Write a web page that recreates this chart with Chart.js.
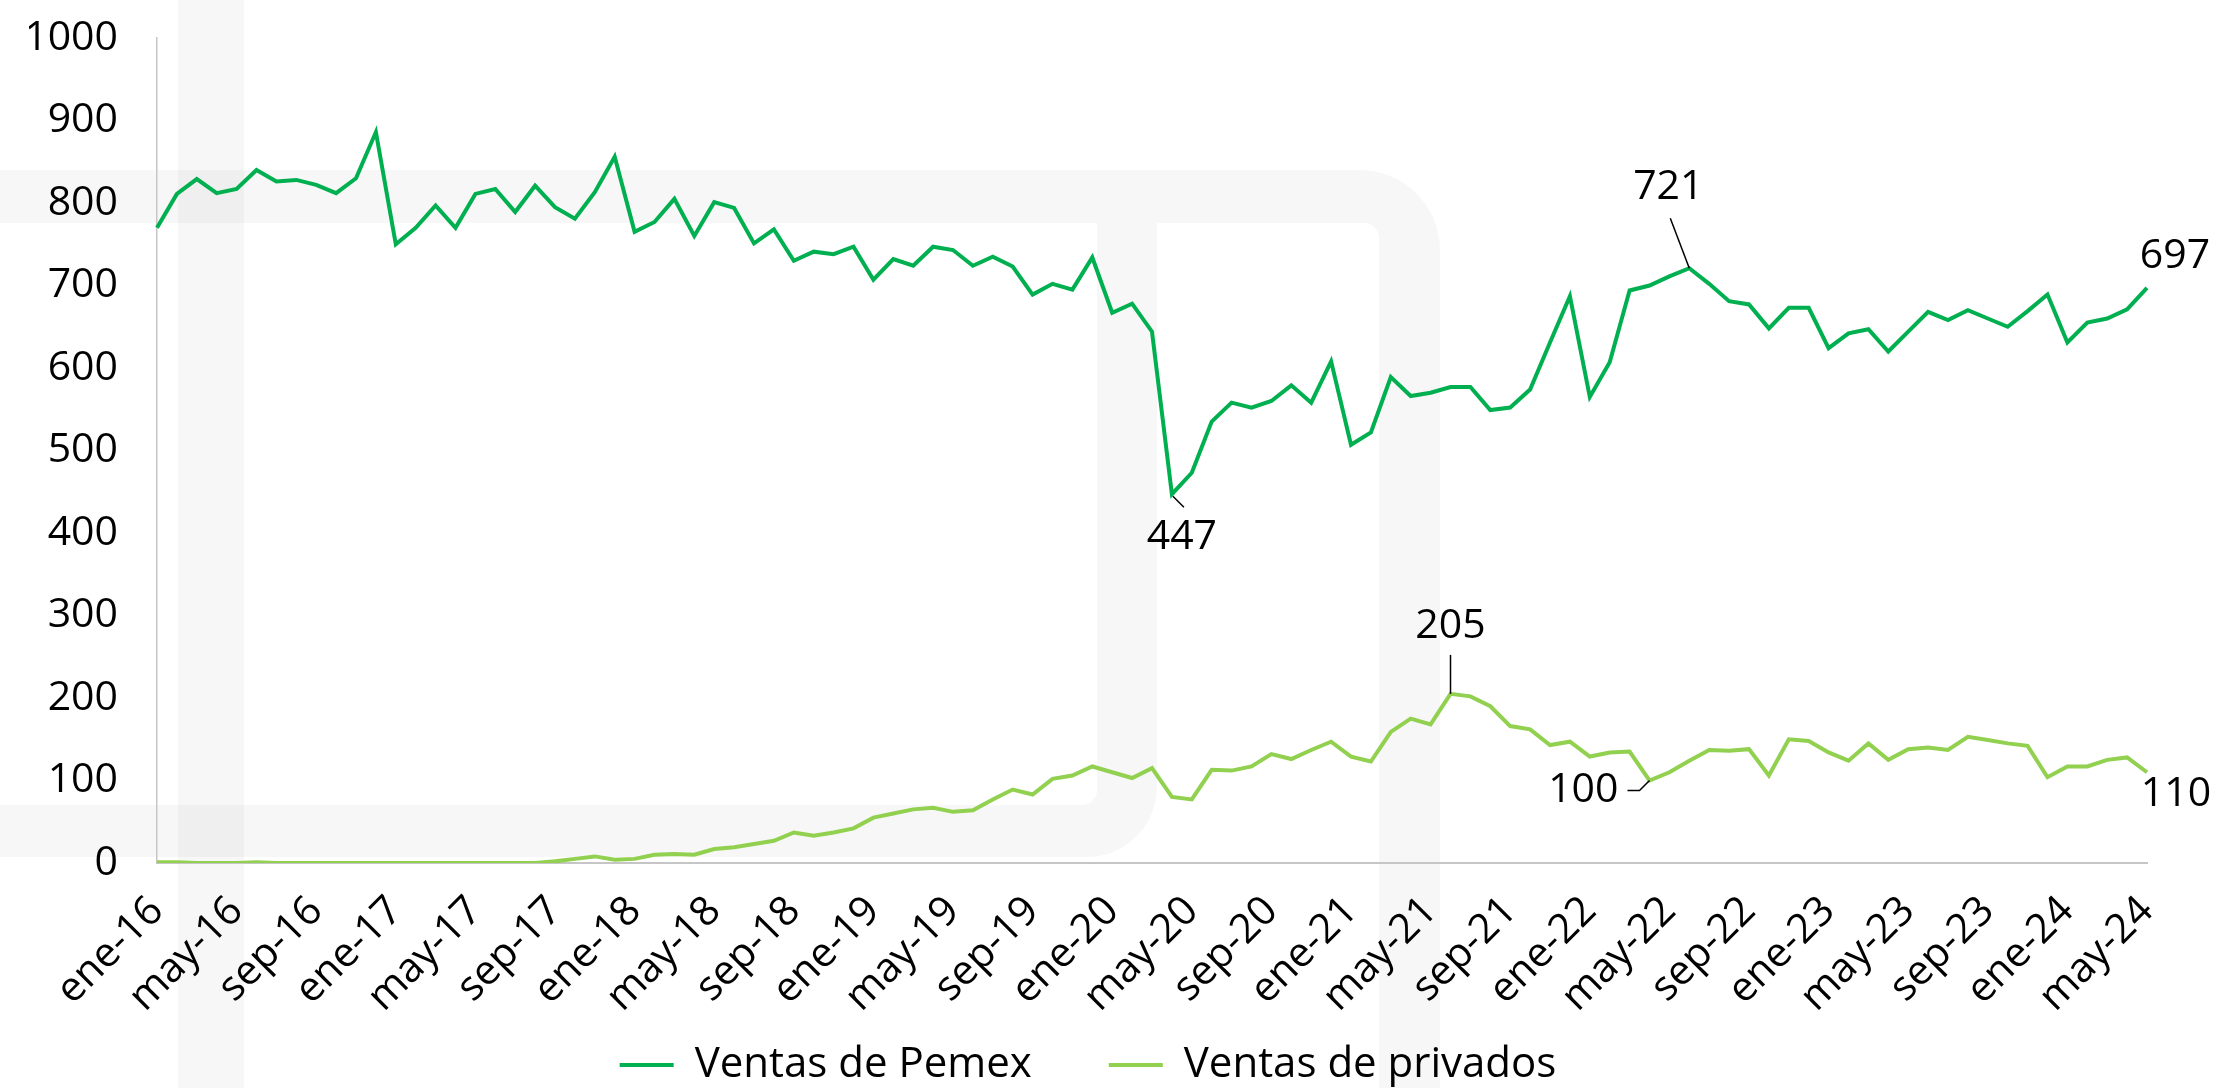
<!DOCTYPE html>
<html><head><meta charset="utf-8">
<script src="https://cdn.jsdelivr.net/npm/chart.js@4.4.1/dist/chart.umd.min.js"></script>
<style>html,body{margin:0;padding:0;background:#fff;overflow:hidden}#wrap{width:2218px;height:1088px;position:relative}</style>
</head><body><div id="wrap"><canvas id="c" width="2218" height="1088"></canvas></div>
<script>
// ---- data ----
const monthNames = ['ene','feb','mar','abr','may','jun','jul','ago','sep','oct','nov','dic'];
const years = ['16','17','18','19','20','21','22','23','24'];
const lastLabel = 'may-24';
const categories = [];
outer: for (const y of years) { for (const m of monthNames) { categories.push(m + '-' + y); if (m + '-' + y === lastLabel) break outer; } }

const seriesNames = ['Ventas de Pemex', 'Ventas de privados'];

const pemexSales = [
  770, 811, 829, 812, 817, 840, 826, 828, 822, 812, 830, 886,
  750, 770, 797, 770, 811, 817, 789, 821, 795, 781, 813, 856,
  765, 777, 805, 760, 801, 794, 751, 768, 730, 741, 738, 747,
  707, 732, 724, 747, 743, 724, 735, 723, 689, 702, 695, 734,
  667, 678, 644, 447, 473, 535, 558, 552, 560, 579, 558, 608,
  507, 522, 589, 566, 570, 577, 577, 549, 552, 574, 631, 687,
  565, 607, 694, 700, 711, 721, 702, 681, 677, 648, 673, 673,
  624, 642, 647, 620, 644, 668, 658, 670, 660, 650, 669, 689,
  631, 655, 660, 671, 697
];
const privateSales = [
  1, 1, 0, 0, 0, 1, 0, 0, 0, 0, 0, 0,
  0, 0, 0, 0, 0, 0, 0, 0, 2, 5, 8, 4,
  5, 10, 11, 10, 17, 19, 23, 27, 37, 33, 37, 42,
  55, 60, 65, 67, 62, 64, 77, 89, 83, 102, 106, 117,
  110, 103, 115, 80, 77, 113, 112, 117, 132, 126, 137, 147,
  129, 123, 159, 175, 168, 205, 202, 190, 166, 162, 143, 147,
  129, 134, 135, 100, 110, 124, 137, 136, 138, 106, 150, 148,
  134, 124, 145, 125, 138, 140, 137, 153, 149, 145, 142, 104,
  117, 117, 125, 128, 110
];
const yTicks = [0, 100, 200, 300, 400, 500, 600, 700, 800, 900, 1000];
const labelEvery = 4;
// annotated points: [series index, category index]
const callouts = [[0, 51], [0, 77], [0, 100], [1, 65], [1, 75], [1, 100]];

// ---- styles ----
const FONT = "'Open Sans', 'Liberation Sans', sans-serif";
const FS = 41;
const colPemex = '#00B050';
const colPriv = '#92D050';

const watermark = {
  id: 'watermark',
  beforeDraw(chart) {
    const ctx = chart.ctx;
    ctx.save();
    ctx.fillStyle = '#ffffff';
    ctx.fillRect(0, 0, chart.width, chart.height);
    ctx.fillStyle = 'rgba(0,0,0,0.031)';
    ctx.beginPath();
    ctx.moveTo(0, 170); ctx.lineTo(1360, 170); ctx.arcTo(1440, 170, 1440, 250, 80);
    ctx.lineTo(1440, 1088); ctx.lineTo(1379, 1088); ctx.lineTo(1379, 238);
    ctx.arcTo(1379, 223, 1364, 223, 15); ctx.lineTo(0, 223); ctx.closePath();
    ctx.moveTo(1097, 223); ctx.lineTo(1157, 223); ctx.lineTo(1157, 787);
    ctx.arcTo(1157, 857, 1087, 857, 70); ctx.lineTo(0, 857); ctx.lineTo(0, 805);
    ctx.lineTo(1082, 805); ctx.arcTo(1097, 805, 1097, 790, 15); ctx.closePath();
    ctx.fill('nonzero');
    ctx.beginPath();
    ctx.rect(178, 0, 66, 1088);
    ctx.fill();
    ctx.restore();
  }
};

const calloutStyle = {
  '0:51':  {lead: [[1, 2], [12, 13]], tx: 10, ty: 43, align: 'center'},
  '0:77':  {lead: [[0, 0], [-19, -50]], tx: -21, ty: -81, align: 'center'},
  '0:100': {lead: null, tx: 28, ty: -32, align: 'center'},
  '1:65':  {lead: [[0, 0], [0, -39]], tx: 0, ty: -68, align: 'center'},
  '1:75':  {lead: [[0, 0], [-10, 10], [-22, 10]], tx: -31, ty: 10, align: 'right'},
  '1:100': {lead: null, tx: 29, ty: 22, align: 'center'}
};
const valueLabels = {
  id: 'valueLabels',
  afterDatasetsDraw(chart) {
    const ctx = chart.ctx;
    ctx.save();
    ctx.font = FS + 'px ' + FONT;
    ctx.fillStyle = '#000';
    ctx.strokeStyle = '#000';
    ctx.lineWidth = 1.5;
    ctx.textBaseline = 'middle';
    for (const [s, i] of callouts) {
      const st = calloutStyle[s + ':' + i];
      const pt = chart.getDatasetMeta(s).data[i];
      const v = chart.data.datasets[s].data[i];
      if (st.lead) {
        ctx.beginPath();
        st.lead.forEach((p, k) => { ctx[k ? 'lineTo' : 'moveTo'](pt.x + p[0], pt.y + p[1]); });
        ctx.stroke();
      }
      ctx.textAlign = st.align;
      ctx.fillText(String(v), pt.x + st.tx, pt.y + st.ty);
    }
    ctx.restore();
  }
};

new Chart(document.getElementById('c'), {
  type: 'line',
  data: {
    labels: categories,
    datasets: [
      {label: seriesNames[0], data: pemexSales, borderColor: colPemex, backgroundColor: colPemex, borderWidth: 4, pointRadius: 0, tension: 0},
      {label: seriesNames[1], data: privateSales, borderColor: colPriv, backgroundColor: colPriv, borderWidth: 4, pointRadius: 0, tension: 0}
    ]
  },
  options: {
    responsive: false,
    animation: false,
    devicePixelRatio: 1,
    layout: {padding: {left: 29, right: 71, top: 38, bottom: -8}},
    plugins: {
      legend: {
        position: 'bottom',
        onClick: () => {},
        labels: {
          font: {family: FONT, size: 42},
          color: '#000',
          boxWidth: 54,
          boxHeight: 4,
          padding: 1,
          generateLabels(chart) {
            const items = chart.data.datasets.map((d, i) => ({
              text: d.label, fillStyle: d.borderColor, strokeStyle: d.borderColor,
              lineWidth: 0, hidden: false, datasetIndex: i, fontColor: '#000'
            }));
            // invisible spacer between the two entries
            items.splice(1, 0, {text: '', fillStyle: 'rgba(0,0,0,0)', strokeStyle: 'rgba(0,0,0,0)', lineWidth: 0, hidden: false, fontColor: '#000'});
            return items;
          }
        }
      },
      tooltip: {enabled: false}
    },
    scales: {
      x: {
        offset: false,
        grid: {display: false, drawTicks: false},
        border: {display: true, color: '#c6c6c6', width: 2},
        ticks: {
          autoSkip: false, maxRotation: 45, minRotation: 45, padding: 24,
          color: '#000', font: {family: FONT, size: FS},
          callback: (v, i) => (i % labelEvery === 0 ? categories[i] : null)
        },
        afterFit(scale) { scale.height = 180; }
      },
      y: {
        min: 0, max: 1000,
        grid: {display: false, drawTicks: true, tickLength: 39},
        border: {display: true, color: '#c6c6c6', width: 1.5},
        ticks: {
          stepSize: 100, padding: 0, color: '#000', font: {family: FONT, size: FS},
          callback: (v) => (yTicks.includes(v) ? String(v) : null)
        },
        afterFit(scale) { scale.width = 128; }
      }
    }
  },
  plugins: [watermark, valueLabels]
});
</script></body></html>
